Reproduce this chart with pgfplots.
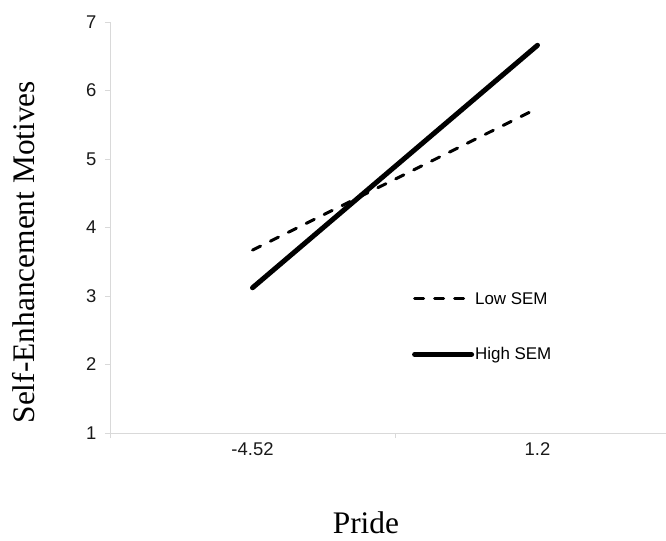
\documentclass[border=0pt]{standalone}
\usepackage{fontspec}
\setmainfont{Liberation Serif}
\newfontfamily\arial{Liberation Sans}
\usepackage{pgfplots}
\pgfplotsset{compat=1.18}
\begin{document}
\begin{tikzpicture}
\begin{axis}[
  at={(110bp,108bp)}, anchor=south west,
  scale only axis, width=570bp, height=411bp,
  xmin=-0.5, xmax=1.5, ymin=1, ymax=7,
  axis lines=left,
  axis line style={-, draw=black!15, line width=0.8bp},
  xtick={0,1}, xticklabels={-4.52,1.2},
  minor xtick={-0.5,0.5,1.5},
  major x tick style={draw=none},
  minor x tick style={draw=black!15, line width=0.8bp},
  ytick={1,2,3,4,5,6,7},
  y tick style={draw=black!15, line width=0.8bp},
  tick align=outside,
  major tick length=5bp, minor tick length=5bp,
  /pgf/number format/assume math mode=true,
  ticklabel style={font=\arial\fontsize{18.5}{21}\selectfont, text=black!90},
  yticklabel style={xshift=-5bp},
  xticklabel style={yshift=-1bp},
  xlabel={Pride},
  ylabel={Self-Enhancement Motives},
  label style={font=\fontsize{31.5}{36}\selectfont},
  xlabel style={at={(axis description cs:0.449,-0.218)}, anchor=center},
  ylabel style={at={(axis description cs:-0.152,0.44)}, anchor=center, rotate=0},
  legend style={at={(axis description cs:0.53,0.345)}, anchor=north west,
    draw=none, fill=none, inner sep=0pt, outer sep=0pt,
    row sep=40bp, font=\arial\fontsize{17}{20}\selectfont,
    nodes={inner sep=1bp}},
  legend cell align=left,
  legend image code/.code={\draw[#1] (0bp,0bp) -- (57bp,0bp);},
]
\addplot[black, line width=3bp, dash pattern=on 9bp off 11bp, line cap=round] coordinates {(0,3.67) (1,5.74)};
\addlegendentry{Low SEM}
\addplot[black, line width=5bp, line cap=round] coordinates {(0,3.12) (1,6.66)};
\addlegendentry{High SEM}
\end{axis}
\pgfresetboundingbox
\useasboundingbox (0,0) rectangle (666bp,541bp);
\end{tikzpicture}
\end{document}
